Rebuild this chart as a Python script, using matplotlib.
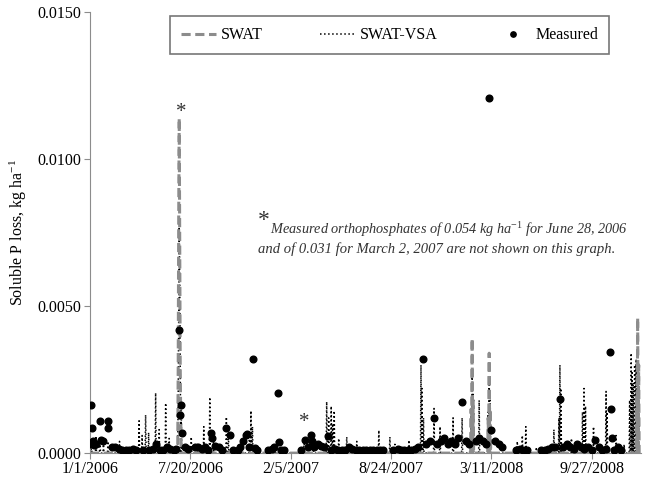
import numpy as np
import pandas as pd
import matplotlib
matplotlib.use("Agg")
import matplotlib.pyplot as plt

# ---- data (days counted from 1/1/2006) ----
start_date = "2006-01-01"
n_days = 1096

tick_labels = ["1/1/2006", "7/20/2006", "2/5/2007", "8/24/2007", "3/11/2008", "9/27/2008"]
y_ticks = [0.0, 0.005, 0.010, 0.015]

# SWAT-VSA simulated daily loss, days with non-zero values
vsa_days = [3, 12, 20, 27, 36, 59, 80, 98, 104, 111, 117, 131, 138, 151, 158,
            176, 177, 178, 179, 180, 182, 202, 215, 227, 239, 246, 272, 276, 300,
            318, 321, 324, 372, 427, 445, 472, 476, 481, 484, 487, 496, 512, 532,
            576, 598, 608, 636, 660, 662, 665, 686, 698, 724, 742, 760, 762, 764,
            776, 794, 796, 798, 852, 862, 869, 890, 925, 935, 937, 939, 960, 982,
            985, 988, 1004, 1029, 1031, 1049, 1065, 1076, 1079, 1081, 1083, 1086,
            1089, 1092, 1094]
vsa_vals = [0.0003, 0.00058, 0.0005, 0.0003, 0.0004, 0.0004, 0.0002, 0.0011, 0.0006,
            0.0013, 0.0007, 0.00205, 0.0008, 0.0017, 0.0005,
            0.0020, 0.0045, 0.0077, 0.0060, 0.0030, 0.0015, 0.00055, 0.0003, 0.0009,
            0.0019, 0.0006, 0.00123, 0.0007, 0.0003,
            0.0007, 0.00144, 0.0009, 0.0004, 0.0004, 0.0003, 0.00175, 0.0012, 0.0016,
            0.0010, 0.00144, 0.0005, 0.00055, 0.0004,
            0.00078, 0.00055, 0.0003, 0.00044, 0.0030, 0.0022, 0.0012, 0.00152, 0.0009,
            0.0012, 0.0012, 0.0015, 0.0026, 0.0020,
            0.0018, 0.0014, 0.0026, 0.0018, 0.0004, 0.0006, 0.0009, 0.0002, 0.0008,
            0.0012, 0.0030, 0.0022, 0.0005, 0.0014,
            0.0022, 0.0016, 0.0009, 0.0021, 0.0014, 0.0006, 0.0003, 0.0018, 0.0034,
            0.0028, 0.0024, 0.0030,
            0.0032, 0.0028, 0.0020]

# SWAT simulated daily loss, days with non-zero values
swat_days = [176, 177, 178, 179, 180, 181, 760, 762, 764, 794, 796, 798, 1090, 1092, 1094]
swat_vals = [0.0030, 0.0080, 0.0114, 0.0070, 0.0030, 0.0012, 0.0015, 0.0039, 0.0018,
             0.0012, 0.0034, 0.0015, 0.0020, 0.0046, 0.0030]

# measured soluble P (peaks)
meas_days = [2, 4, 9, 20, 22, 36, 37, 132, 178, 179, 182, 184, 242, 243, 272, 279,
             306, 312, 314, 325, 329, 367, 374, 376, 429, 440, 442, 474, 664, 686,
             742, 796, 800, 937, 1007, 1036, 1038, 1040]
meas_vals = [0.00163, 0.00085, 0.00027, 0.0011, 0.00044, 0.0011, 0.00085, 0.0003,
             0.0042, 0.0013, 0.00163, 0.00068, 0.00068, 0.0005, 0.00086, 0.0006,
             0.00042, 0.0006, 0.00065, 0.0032, 0.00017, 0.0002, 0.00205, 0.00038,
             0.00044, 0.0006, 0.0004, 0.00058, 0.0032, 0.0012,
             0.00175, 0.0121, 0.0008, 0.00185, 0.00045, 0.00345, 0.0015, 0.0005]

# measured soluble P (low flow days)
base_days = [0, 6, 13, 27, 44, 50, 57, 64, 71, 78, 85, 92, 105, 118, 125, 139, 146,
             153, 160, 167, 172, 190, 196, 209, 216, 223, 230, 236, 250, 257, 264,
             286, 295, 300, 318, 334, 356, 362, 380, 386, 420, 434, 447, 454, 461,
             467, 481, 488, 495, 502, 509, 516, 523, 530, 537, 544, 551, 558, 565,
             572, 579, 585, 605, 614, 620, 627, 634, 641, 648, 655, 670, 677, 692,
             700, 706, 713, 720, 727, 734, 750, 756, 770, 776, 783, 790, 808, 815,
             822, 850, 857, 864, 871, 900, 907, 914, 921, 928, 944, 951, 958, 965,
             972, 979, 986, 993, 1000, 1014, 1021, 1028, 1045, 1052, 1059]
base_vals = [0.0003, 0.0004, 0.0003, 0.0004, 0.0002, 0.0002, 0.00015, 0.0001, 0.0001,
             0.0001, 0.00015, 0.0001, 0.00012, 0.0001, 0.00015, 0.00012, 0.0001,
             0.0002, 0.00015, 0.0001, 0.00015, 0.0002, 0.00015, 0.0002, 0.0002,
             0.00015, 0.0002, 0.0001, 0.00025, 0.0002, 0.0001,
             0.00012, 0.0001, 0.0002, 0.0002, 0.0001, 0.0001, 0.00015, 0.0001, 0.0001,
             0.00012, 0.0002, 0.0002, 0.0003, 0.00025,
             0.0002, 0.0001, 0.00015, 0.0001, 0.0001, 0.0001, 0.0002, 0.00015, 0.0001,
             0.0001, 0.0001, 0.00012, 0.0001, 0.0001,
             0.0001, 0.0001, 0.00012, 0.0001, 0.00015, 0.0001, 0.0001, 0.0001, 0.0001,
             0.00015, 0.0002, 0.0003, 0.0004, 0.0003,
             0.0004, 0.0005, 0.0003, 0.0004, 0.0003, 0.0005, 0.0004, 0.0003, 0.0004,
             0.0005, 0.0004, 0.0003, 0.0004, 0.0003,
             0.0002, 0.0001, 0.00015, 0.0001, 0.0001, 0.0001, 0.0001, 0.00015, 0.0002,
             0.0002, 0.0002, 0.0003, 0.0002, 0.00015,
             0.0003, 0.0002, 0.00015, 0.0002, 0.0001, 0.0002, 0.0001, 0.00015, 0.0001,
             0.0002, 0.0001]

note_1 = "Measured orthophosphates of 0.054 kg ha$^{-1}$ for June 28, 2006"
note_2 = "and of 0.031 for March 2, 2007 are not shown on this graph."

# ---- build daily series ----
dates = pd.date_range(start_date, periods=n_days, freq="D")
t0 = pd.Timestamp(start_date)

vsa = np.zeros(n_days)
vsa[vsa_days] = vsa_vals
swat = np.zeros(n_days)
swat[swat_days] = swat_vals

meas_dates = t0 + pd.to_timedelta(meas_days + base_days, unit="D")
meas_all = meas_vals + base_vals

plt.rcParams["font.family"] = ["Liberation Serif", "DejaVu Serif"]
plt.rcParams["mathtext.fontset"] = "custom"
plt.rcParams["mathtext.rm"] = "Liberation Serif"
plt.rcParams["mathtext.it"] = "Liberation Serif:italic"
grey = "#8c8c8c"

fig = plt.figure(figsize=(6.47, 4.8), dpi=100)
ax = fig.add_axes([0.139, 0.056, 0.852, 0.918])

ax.plot(dates, vsa, color="black", linestyle=":", linewidth=1.1, label="SWAT-VSA", zorder=2)
ax.plot(dates, swat, color=grey, linestyle=(0, (3, 1.5)), linewidth=2.2, label="SWAT", zorder=3)
ax.plot(meas_dates, meas_all, linestyle="none", marker="o", markersize=4.8,
        color="black", label="Measured", zorder=4)

ax.set_xlim(t0, t0 + pd.Timedelta(days=n_days + 3))
ax.set_ylim(0, 0.015)
ax.set_xticks(pd.to_datetime(tick_labels, format="%m/%d/%Y"))
ax.set_xticklabels(tick_labels, fontsize=11.5)
ax.set_yticks(y_ticks)
ax.set_yticklabels([f"{v:.4f}" for v in y_ticks], fontsize=11.5)
ax.set_ylabel("Soluble P loss, kg ha$^{-1}$", fontsize=11.5, labelpad=6)

for side in ["top", "right"]:
    ax.spines[side].set_visible(False)
for side in ["left", "bottom"]:
    ax.spines[side].set_color(grey)
ax.tick_params(axis="both", color=grey, length=4, pad=2)

# asterisks over the events with off-scale measurements
ax.text(t0 + pd.Timedelta(days=182), 0.0116, "*", fontsize=15, ha="center", va="center", color="#333333")
ax.text(t0 + pd.Timedelta(days=427), 0.00105, "*", fontsize=15, ha="center", va="center", color="#333333")

ax.text(0.305, 0.527, "*", transform=ax.transAxes, fontsize=17, color="#333333", va="center")
ax.text(0.327, 0.508, note_1, transform=ax.transAxes, fontsize=10.3, style="italic",
        color="#333333", va="center")
ax.text(0.305, 0.463, note_2, transform=ax.transAxes, fontsize=10.5, style="italic",
        color="#333333", va="center")

handles, labels = ax.get_legend_handles_labels()
order = [1, 0, 2]
leg = ax.legend([handles[i] for i in order], [labels[i] for i in order],
                loc="upper left", bbox_to_anchor=(0.13, 1.01), ncol=3,
                fontsize=11.5, frameon=True, fancybox=False, edgecolor="#555555",
                handlelength=2.2, columnspacing=3.6, handletextpad=0.3,
                borderpad=0.7, markerscale=0.8)
leg.get_frame().set_linewidth(1.2)

fig.savefig("out.png", dpi=100)
